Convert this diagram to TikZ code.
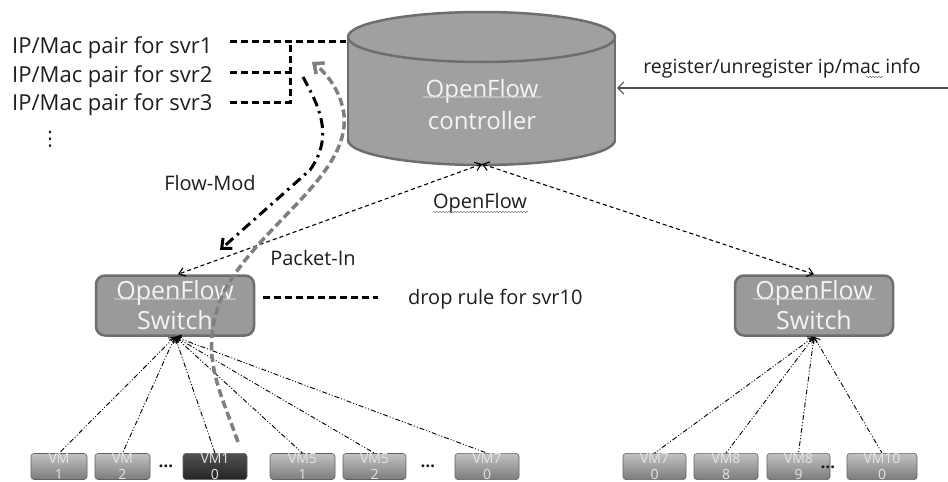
\documentclass[tikz,border=0pt]{standalone}
\usepackage{fontspec}
\setmainfont{Open Sans}
\newfontfamily\dejavu{DejaVu Sans}
\usetikzlibrary{arrows.meta,decorations.pathmorphing}
\definecolor{cylfill}{HTML}{A0A0A0}
\definecolor{cylline}{HTML}{6E6E6E}
\definecolor{swfill}{HTML}{9A9A9A}
\definecolor{shtext}{HTML}{F4F4F4}
\definecolor{vmtop}{HTML}{C2C2C2}
\definecolor{vmbot}{HTML}{7C7C7C}
\definecolor{pktgray}{HTML}{7F7F7F}
\definecolor{txt}{HTML}{1E1E1E}
\definecolor{reg}{HTML}{505050}
\begin{document}
\begin{tikzpicture}[x=1pt,y=-1pt,
  lbl/.style={font=\fontsize{20}{24}\selectfont, text=txt, inner sep=0pt},
  iplbl/.style={font=\fontsize{22}{24}\selectfont, text=txt, inner sep=0pt, anchor=base west},
  swbox/.style={draw=cylline, line width=2.5pt, fill=swfill, rounded corners=9pt,
    minimum width=158pt, minimum height=60pt, align=center, text=shtext,
    font=\fontsize{25}{30}\selectfont, inner sep=0pt},
  ctrltext/.style={align=center, text=shtext, font=\fontsize{24}{32}\selectfont, inner sep=0pt},
  vmbox/.style={draw=black!62, line width=0.6pt, rounded corners=3pt, top color=vmtop,
    bottom color=vmbot, minimum height=23pt, inner sep=0pt, align=center,
    text=white!90!black, font=\fontsize{14}{16}\selectfont},
  vmdark/.style={vmbox, top color=black!68, bottom color=black!86},
  ofl/.style={line width=1.1pt, dash pattern=on 4pt off 3pt, black,
    {Straight Barb[length=6pt,width=9pt]}-{Straight Barb[length=6pt,width=9pt]}},
  fan/.style={line width=0.9pt, black, dash pattern=on 5pt off 2pt on 1pt off 2pt on 1pt off 2pt,
    {Straight Barb[length=5pt,width=8pt]}-},
  thickdash/.style={line width=3pt, black, dash pattern=on 7pt off 4pt},
  flowmod/.style={line width=3pt, black, dash pattern=on 10pt off 5pt on 2.5pt off 5pt,
    -{Straight Barb[length=8pt,width=14pt]}},
  pktin/.style={line width=3.5pt, pktgray, dash pattern=on 8pt off 4pt,
    -{Straight Barb[length=8pt,width=14pt]}},
  regarrow/.style={line width=1.2pt, reg, -{Straight Barb[length=6pt,width=12pt]}},
  wavy/.style={decorate, decoration={snake, amplitude=0.8pt, segment length=3pt}, line width=0.5pt}
]
\useasboundingbox (0,0) rectangle (948,482);
\fill[white] (0,0) rectangle (948,482);

% ---- controller cylinder ----
\fill[cylfill] (348,37) rectangle (615,140);
\fill[cylfill] (481.5,140) ellipse [x radius=133.5, y radius=25];
\draw[cylline, line width=2.5pt] (348,37) -- (348,140);
\draw[cylline, line width=2.5pt] (615,37) -- (615,140);
\begin{scope}
  \clip (330,140) rectangle (630,175);
  \draw[cylline, line width=2.5pt] (481.5,140) ellipse [x radius=133.5, y radius=25];
\end{scope}
\filldraw[fill=cylfill, draw=cylline, line width=2.5pt] (481.5,37) ellipse [x radius=133.5, y radius=25];
\node[ctrltext] (ctrl) at (482,104) {OpenFlow\\controller};
\draw[wavy, white!85!black] (423,97) -- (542,97);
\coordinate (ctrlB) at (482,164);
\coordinate (ctrlR) at (617,88);
\coordinate (ctrlL) at (346,41);

% ---- register arrow ----
\coordinate (regR) at (948,88);
\draw[regarrow] (regR) -- (ctrlR);
\node[font=\fontsize{19.5}{22}\selectfont, text=txt, inner sep=0pt] (regtxt) at (782,68) {register/unregister ip/mac info};
\draw[wavy, black!55] (866,77) -- (883,77);

% ---- IP/Mac list ----
\node[iplbl] (ip1) at (12,53) {IP/Mac pair for svr1};
\node[iplbl] (ip2) at (12,82) {IP/Mac pair for svr2};
\node[iplbl] (ip3) at (12,110) {IP/Mac pair for svr3};
\node[font=\dejavu\fontsize{20}{22}\selectfont, text=txt, inner sep=0pt] (ipdots) at (50,139) {⋮};
\coordinate (d1) at (230,41);
\coordinate (d2) at (230,72);
\coordinate (d3) at (230,102);
\coordinate (j1) at (290,41);
\coordinate (j2) at (290,72);
\coordinate (j3) at (290,102);
\draw[thickdash] (d1) -- (ctrlL);
\draw[thickdash] (d2) -- (j2);
\draw[thickdash] (d3) -- (j3) -- (j1);

% ---- switches ----
\node[swbox] (sw1) at (175,305.5) {OpenFlow\\Switch};
\node[swbox] (sw2) at (814,305.5) {OpenFlow\\Switch};
\draw[wavy, white!85!black] (114,299) -- (236,299);
\draw[wavy, white!85!black] (753,299) -- (875,299);

% ---- OpenFlow links ----
\draw[ofl] (ctrlB) -- ([xshift=3pt]sw1.north);
\draw[ofl] (ctrlB) -- (sw2.north);
\node[lbl] (oflbl) at (480,203) {OpenFlow};
\draw[wavy, black!50] (433,212) -- (528,212);

% ---- drop rule ----
\coordinate (dr1) at (263,297);
\coordinate (dr2) at (378,297);
\draw[thickdash] (dr1) -- (dr2);
\node[lbl, anchor=west] (droptxt) at (408,299) {drop rule for svr10};

% ---- VMs ----
\node[vmbox, minimum width=56pt] (vm1) at (59,466.5) {VM\\1};
\node[vmbox, minimum width=55pt] (vm2) at (122.5,466.5) {VM\\2};
\node[vmdark, minimum width=64pt] (vm10) at (215,466.5) {VM1\\0};
\node[vmbox, minimum width=65pt] (vm51) at (302.5,466.5) {VM5\\1};
\node[vmbox, minimum width=63pt] (vm52) at (374.5,466.5) {VM5\\2};
\node[vmbox, minimum width=64pt] (vm70) at (487,466.5) {VM7\\0};
\node[vmbox, minimum width=63pt] (vm70b) at (654.5,466.5) {VM7\\0};
\node[vmbox, minimum width=64pt] (vm88) at (726,466.5) {VM8\\8};
\node[vmbox, minimum width=63pt] (vm89) at (798.5,466.5) {VM8\\9};
\node[vmbox, minimum width=70pt] (vm100) at (882,466.5) {VM10\\0};
\node[font=\bfseries\fontsize{17}{18}\selectfont, text=txt, inner sep=0pt] (dotsA) at (166,466) {…};
\node[font=\bfseries\fontsize{17}{18}\selectfont, text=txt, inner sep=0pt] (dotsB) at (428,466) {…};
\node[font=\bfseries\fontsize{17}{18}\selectfont, text=txt, inner sep=0pt] (dotsC) at (828,467) {…};

% ---- fan-out links ----
\foreach \v in {vm1,vm2,vm10,vm51,vm52,vm70} {\draw[fan] (sw1.south) -- (\v.north);}
\foreach \v in {vm70b,vm88,vm89,vm100} {\draw[fan] (sw2.south) -- (\v.north);}

% ---- Flow-Mod and Packet-In ----
\coordinate (fmS) at (303,77);
\coordinate (fmE) at (220,250);
\draw[flowmod] (fmS) .. controls (318,105) and (335,135) .. (310,170) -- (fmE);
\node[lbl] (fmlbl) at (210,183) {Flow-Mod};
\coordinate (piS) at (238,442);
\coordinate (piE) at (312,62);
\draw[pktin] (piS) .. controls (220,390) and (196,350) .. (225,290)
   .. controls (260,225) and (350,175) .. (344,115)
   .. controls (341,90) and (325,72) .. (piE);
\node[lbl] (pilbl) at (313,258) {Packet-In};
\end{tikzpicture}
\end{document}
